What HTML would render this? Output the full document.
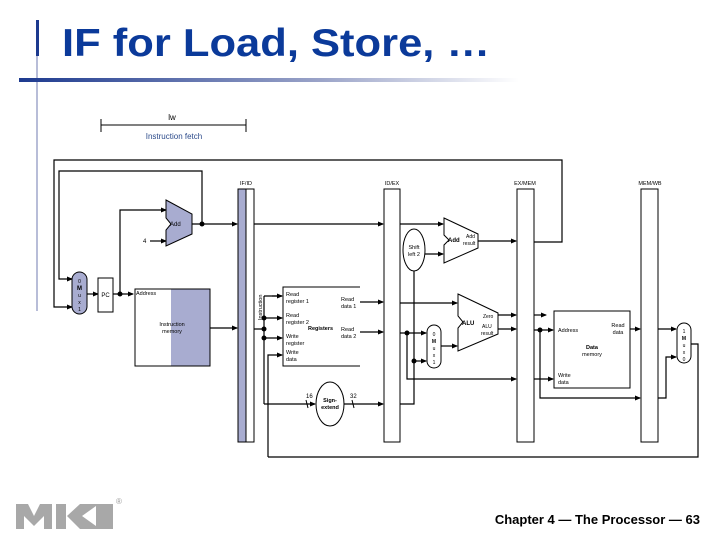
<!DOCTYPE html>
<html><head><style>
html,body{margin:0;padding:0;background:#fff;}
svg{display:block;font-family:"Liberation Sans",Arial,sans-serif;}
</style></head><body>
<svg width="720" height="540" viewBox="0 0 720 540" xmlns="http://www.w3.org/2000/svg">
<defs>
<linearGradient id="hg" x1="0" x2="1"><stop offset="0" stop-color="#1d3a8f"/><stop offset="0.6" stop-color="#9aa3c8"/><stop offset="1" stop-color="#ffffff"/></linearGradient>
<marker id="a" markerWidth="6" markerHeight="6" refX="5" refY="3" orient="auto" markerUnits="userSpaceOnUse"><path d="M0,0.5 L6,3 L0,5.5z" fill="#000"/></marker>
</defs>
<rect x="36" y="20" width="3" height="36" fill="#1d3a8f"/>
<rect x="36" y="56" width="2" height="255" fill="#b8bdd8"/>
<rect x="19" y="78" width="500" height="4" fill="url(#hg)"/>
<text x="62" y="56" font-size="39" font-weight="bold" fill="#0b3a9a" textLength="428" lengthAdjust="spacingAndGlyphs">IF for Load, Store, …</text>

<g stroke="#000" fill="none" stroke-width="1">
<path d="M101,125 H246 M101,119 V132 M246,119 V132"/>
</g>
<text x="172" y="120" font-size="8" text-anchor="middle">lw</text>
<text x="174" y="139" font-size="8" fill="#2b4a8a" text-anchor="middle">Instruction fetch</text>

<g stroke="#000" fill="none" stroke-width="1.2">
<path d="M534,242 H562 V160 H54 V307 H72" marker-end="url(#a)"/>
<path d="M202,224 V171 H59 V279 H72" marker-end="url(#a)"/>
<path d="M87,294 H98" marker-end="url(#a)"/>
<path d="M113,294 H133" marker-end="url(#a)"/>
<path d="M120,294 V210 H166" marker-end="url(#a)"/>
<path d="M150,241 H166" marker-end="url(#a)"/>
<path d="M192,224 H237" marker-end="url(#a)"/>
<path d="M210,328 H237" marker-end="url(#a)"/>
<path d="M254,224 H383" marker-end="url(#a)"/>
<path d="M254,329 H264 M264,296 V404 M264,296 H282" />
<path d="M272,296 H282" marker-end="url(#a)"/>
<path d="M264,318 H282" marker-end="url(#a)"/>
<path d="M264,338 H282" marker-end="url(#a)"/>
<path d="M268,457 V355 H282" marker-end="url(#a)"/>
<path d="M264,404 H315" marker-end="url(#a)"/>
<path d="M344,404 H383" marker-end="url(#a)"/>
<path d="M360,302 H383" marker-end="url(#a)"/>
<path d="M360,332 H383" marker-end="url(#a)"/>
<path d="M268,457 H698 V344 H691"/>
<path d="M400,224 H443" marker-end="url(#a)"/>
<path d="M425,254 H443" marker-end="url(#a)"/>
<path d="M414,271 V404 H400"/>
<path d="M478,241 H516" marker-end="url(#a)"/>
<path d="M400,303 H457" marker-end="url(#a)"/>
<path d="M400,333 H426" marker-end="url(#a)"/>
<path d="M407,333 V379 H516" marker-end="url(#a)"/>
<path d="M414,361 H426" marker-end="url(#a)"/>
<path d="M441,346 H457" marker-end="url(#a)"/>
<path d="M498,315 H516" marker-end="url(#a)"/>
<path d="M498,329 H516" marker-end="url(#a)"/>
<path d="M534,315 H546" marker-end="url(#a)"/>
<path d="M534,330 H553" marker-end="url(#a)"/>
<path d="M534,379 H553" marker-end="url(#a)"/>
<path d="M540,330 V398 H640" marker-end="url(#a)"/>
<path d="M630,329 H640" marker-end="url(#a)"/>
<path d="M658,329 H676" marker-end="url(#a)"/>
<path d="M658,398 H666 V357 H676" marker-end="url(#a)"/>
</g>
<g fill="#000">
<circle cx="120" cy="294" r="2.5"/><circle cx="202" cy="224" r="2.5"/>
<circle cx="264" cy="318" r="2.5"/><circle cx="264" cy="329" r="2.5"/><circle cx="264" cy="338" r="2.5"/>
<circle cx="407" cy="333" r="2.5"/><circle cx="414" cy="361" r="2.5"/><circle cx="540" cy="330" r="2.5"/>
</g>
<path d="M306,400 L308,408 M352,400 L354,408" stroke="#000"/>
<text x="306" y="398" font-size="6">16</text><text x="350" y="398" font-size="6">32</text>

<rect x="72" y="272" width="15" height="42" rx="7.5" fill="#a8acd0" stroke="#000"/>
<text x="79.5" y="283" font-size="5" text-anchor="middle">0</text>
<text x="79.5" y="290" font-size="6" font-weight="bold" text-anchor="middle">M</text>
<text x="79.5" y="297" font-size="5" text-anchor="middle">u</text>
<text x="79.5" y="304" font-size="5" text-anchor="middle">x</text>
<text x="79.5" y="311" font-size="5" text-anchor="middle">1</text>
<rect x="98" y="278" width="15" height="34" fill="#fff" stroke="#000"/>
<text x="105.5" y="297" font-size="6" text-anchor="middle">PC</text>
<path d="M166,200 L192,214 V234 L166,246 V230 L171,224 L166,218Z" fill="#a8acd0" stroke="#000"/>
<text x="170" y="226" font-size="6">Add</text>
<text x="143" y="243" font-size="6">4</text>
<rect x="135" y="289" width="75" height="77" fill="#fff" stroke="#000"/>
<rect x="171" y="289" width="39" height="77" fill="#a8acd0"/>
<rect x="135" y="289" width="75" height="77" fill="none" stroke="#000"/>
<text x="136" y="295" font-size="5.5">Address</text>
<text x="172" y="326" font-size="5.5" text-anchor="middle">Instruction</text>
<text x="172" y="333" font-size="5.5" text-anchor="middle">memory</text>

<rect x="238" y="189" width="16" height="253" fill="#fff" stroke="#000"/>
<rect x="238" y="189" width="8" height="253" fill="#a8acd0" stroke="#000"/>
<text x="246" y="185" font-size="5.5" text-anchor="middle">IF/ID</text>
<text x="0" y="0" font-size="5.5" transform="translate(262,320) rotate(-90)">Instruction</text>

<path d="M360,287 H283 V366 H360" fill="#fff" stroke="#000"/>
<g font-size="5.5">
<text x="286" y="296">Read</text><text x="286" y="303">register 1</text>
<text x="286" y="317">Read</text><text x="286" y="324">register 2</text>
<text x="286" y="338">Write</text><text x="286" y="345">register</text>
<text x="286" y="354">Write</text><text x="286" y="361">data</text>
<text x="341" y="301">Read</text><text x="341" y="308">data 1</text>
<text x="341" y="331">Read</text><text x="341" y="338">data 2</text>
<text x="308" y="330" font-weight="bold">Registers</text>
</g>
<ellipse cx="330" cy="404" rx="14" ry="22" fill="#fff" stroke="#000"/>
<text x="330" y="402" font-size="5.5" text-anchor="middle" font-weight="bold">Sign-</text>
<text x="330" y="409" font-size="5.5" text-anchor="middle" font-weight="bold">extend</text>

<rect x="384" y="189" width="16" height="253" fill="#fff" stroke="#000"/>
<text x="392" y="185" font-size="5.5" text-anchor="middle">ID/EX</text>
<ellipse cx="414" cy="250" rx="11" ry="21" fill="#fff" stroke="#000"/>
<text x="414" y="249" font-size="5.5" text-anchor="middle">Shift</text>
<text x="414" y="256" font-size="5.5" text-anchor="middle">left 2</text>
<path d="M444,218 L478,234 V248 L444,263 V245 L449,240 L444,235Z" fill="#fff" stroke="#000"/>
<text x="448" y="242" font-size="6" font-weight="bold">Add</text>
<text x="466" y="238" font-size="5">Add</text><text x="463" y="245" font-size="5">result</text>
<path d="M458,294 L498,313 V334 L458,351 V328 L463,322 L458,316Z" fill="#fff" stroke="#000"/>
<text x="462" y="325" font-size="6" font-weight="bold">ALU</text>
<text x="483" y="318" font-size="5">Zero</text>
<text x="482" y="328" font-size="5">ALU</text><text x="481" y="335" font-size="5">result</text>
<rect x="427" y="325" width="14" height="43" rx="7" fill="#fff" stroke="#000"/>
<text x="434" y="336" font-size="5" text-anchor="middle">0</text>
<text x="434" y="343" font-size="5" text-anchor="middle" font-weight="bold">M</text>
<text x="434" y="350" font-size="5" text-anchor="middle">u</text>
<text x="434" y="357" font-size="5" text-anchor="middle">x</text>
<text x="434" y="364" font-size="5" text-anchor="middle">1</text>

<rect x="517" y="189" width="17" height="253" fill="#fff" stroke="#000"/>
<text x="525" y="185" font-size="5.5" text-anchor="middle">EX/MEM</text>
<rect x="554" y="311" width="76" height="77" fill="#fff" stroke="#000"/>
<text x="558" y="332" font-size="5.5">Address</text>
<text x="618" y="327" font-size="5.5" text-anchor="middle">Read</text><text x="618" y="334" font-size="5.5" text-anchor="middle">data</text>
<text x="592" y="349" font-size="5.5" text-anchor="middle" font-weight="bold">Data</text>
<text x="592" y="356" font-size="5.5" text-anchor="middle">memory</text>
<text x="558" y="377" font-size="5.5">Write</text><text x="558" y="384" font-size="5.5">data</text>

<rect x="641" y="189" width="17" height="253" fill="#fff" stroke="#000"/>
<text x="650" y="185" font-size="5.5" text-anchor="middle">MEM/WB</text>
<rect x="677" y="323" width="14" height="40" rx="7" fill="#fff" stroke="#000"/>
<text x="684" y="333" font-size="5" text-anchor="middle">1</text>
<text x="684" y="340" font-size="5" text-anchor="middle" font-weight="bold">M</text>
<text x="684" y="347" font-size="5" text-anchor="middle">u</text>
<text x="684" y="354" font-size="5" text-anchor="middle">x</text>
<text x="684" y="361" font-size="5" text-anchor="middle">0</text>

<g fill="#a8a8a8">
<path d="M16,504 H28 L34,516 L40,504 H52 V529 H44 V516 L34,526 L24,516 V529 H16Z"/>
<rect x="56" y="504" width="10" height="25"/>
<path d="M67,516 L80,504 H113 V529 H80Z"/>
</g>
<path d="M82,516 L96,506 V526Z" fill="#fff"/>
<text x="116" y="504" font-size="8" fill="#999">®</text>
<text x="700" y="524" font-size="13" font-weight="bold" text-anchor="end">Chapter 4 — The Processor — 63</text>
</svg>
</body></html>
